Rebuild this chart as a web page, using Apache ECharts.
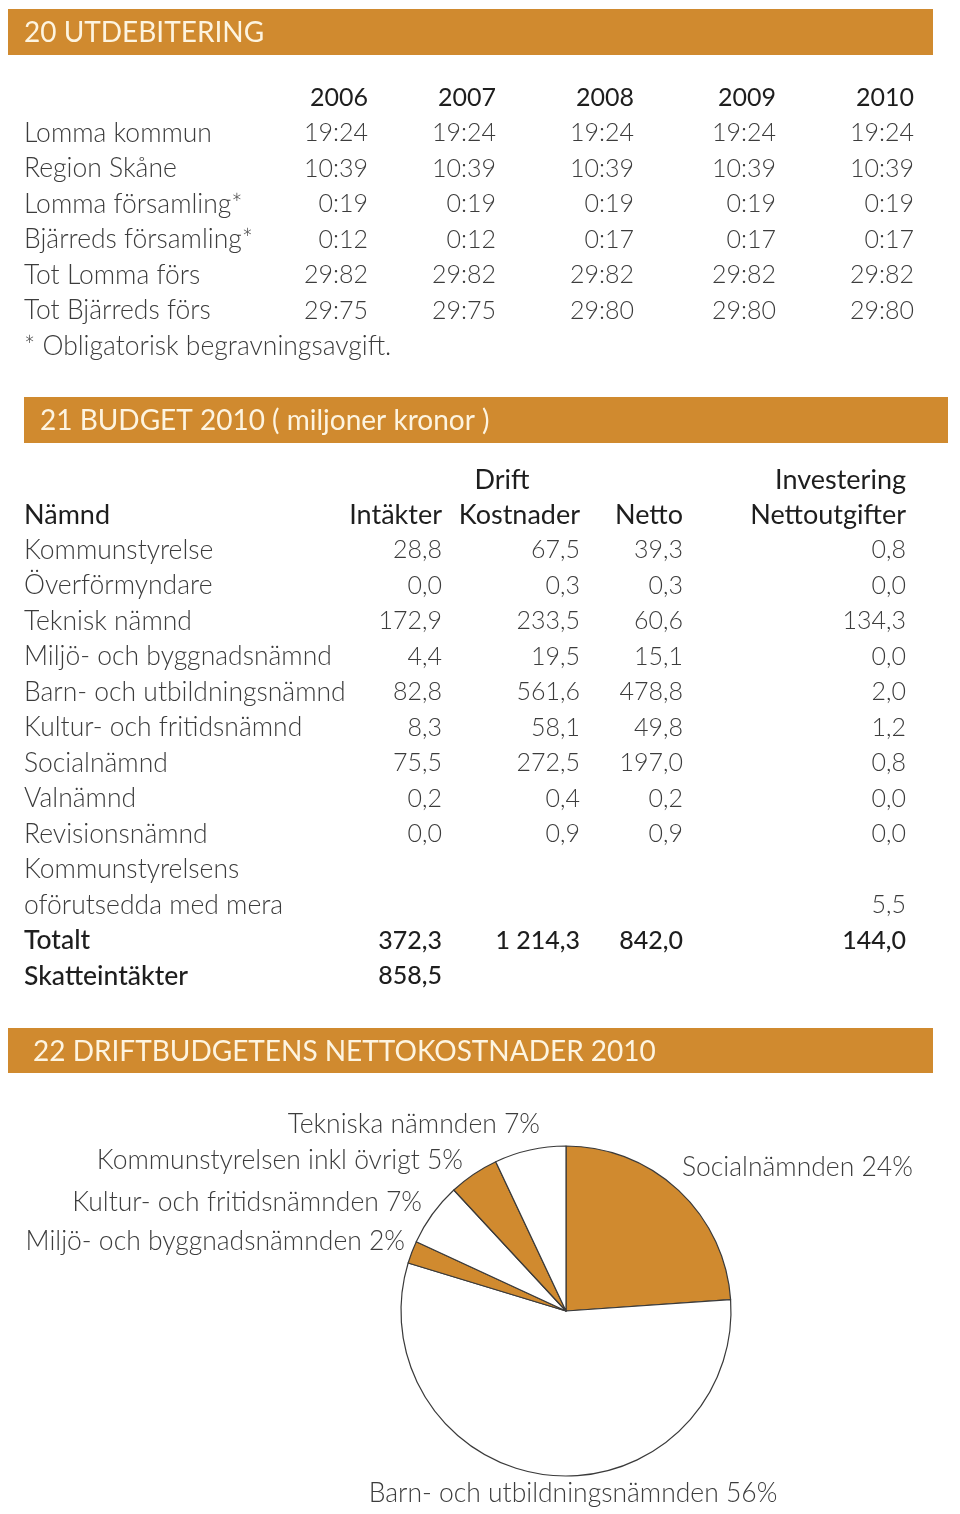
<!DOCTYPE html>
<html>
<head>
<meta charset="utf-8">
<script src="https://cdn.jsdelivr.net/npm/echarts@6/dist/echarts.min.js"></script>
<style>html,body{margin:0;padding:0;background:#fff}#c{width:960px;height:1514px}</style>
</head>
<body>
<div id="c"></div>
<script>
// ---- Data ----
const section20Title = '20 UTDEBITERING';
const years = ['2006', '2007', '2008', '2009', '2010'];
const taxRowLabels = ['Lomma kommun', 'Region Skåne', 'Lomma församling*', 'Bjärreds församling*', 'Tot Lomma förs', 'Tot Bjärreds förs'];
const lommaKommun = ['19:24', '19:24', '19:24', '19:24', '19:24'];
const regionSkane = ['10:39', '10:39', '10:39', '10:39', '10:39'];
const lommaForsamling = ['0:19', '0:19', '0:19', '0:19', '0:19'];
const bjarredsForsamling = ['0:12', '0:12', '0:17', '0:17', '0:17'];
const totLomma = ['29:82', '29:82', '29:82', '29:82', '29:82'];
const totBjarreds = ['29:75', '29:75', '29:80', '29:80', '29:80'];
const taxFootnote = '* Obligatorisk begravningsavgift.';

const section21Title = '21 BUDGET 2010 ( miljoner kronor )';
const budgetGroupHeaders = ['Drift', 'Investering'];
const budgetColHeaders = ['Nämnd', 'Intäkter', 'Kostnader', 'Netto', 'Nettoutgifter'];
const namnder = ['Kommunstyrelse', 'Överförmyndare', 'Teknisk nämnd', 'Miljö- och byggnadsnämnd', 'Barn- och utbildningsnämnd', 'Kultur- och fritidsnämnd', 'Socialnämnd', 'Valnämnd', 'Revisionsnämnd', 'Kommunstyrelsens', 'oförutsedda med mera'];
const intakter = ['28,8', '0,0', '172,9', '4,4', '82,8', '8,3', '75,5', '0,2', '0,0', '', ''];
const kostnader = ['67,5', '0,3', '233,5', '19,5', '561,6', '58,1', '272,5', '0,4', '0,9', '', ''];
const netto = ['39,3', '0,3', '60,6', '15,1', '478,8', '49,8', '197,0', '0,2', '0,9', '', ''];
const investering = ['0,8', '0,0', '134,3', '0,0', '2,0', '1,2', '0,8', '0,0', '0,0', '', '5,5'];
const totalRow = ['Totalt', '372,3', '1 214,3', '842,0', '144,0'];
const skatteRow = ['Skatteintäkter', '858,5', '', '', ''];

const section22Title = '22 DRIFTBUDGETENS NETTOKOSTNADER 2010';
const pieNames = ['Socialnämnden', 'Barn- och utbildningsnämnden', 'Miljö- och byggnadsnämnden', 'Kultur- och fritidsnämnden', 'Kommunstyrelsen inkl övrigt', 'Tekniska nämnden'];
const pieShares = [23.9, 55.8, 2.2, 6.2, 4.9, 7.0];
const piePercentLabels = ['24%', '56%', '2%', '7%', '5%', '7%'];

// ---- Styles / layout ----
const ORANGE = '#D08A2F';
const HEAD_TXT = '#FDF4E0';
const TXT = '#3c3c3c';
const DARK = '#1e1e1e';
const FONT = 'Lato';
const LIGHT = '300 26.5px ' + FONT;
const NUM = '300 25px ' + FONT;
const REG = '400 25px ' + FONT;
const COLH = '400 27px ' + FONT;
const BOLD = '500 26.5px ' + FONT;
const BOLDNUM = '500 25px ' + FONT;
const HEADF = '400 28px ' + FONT;

const g = [];
function txt(x, y, t, font, fill, align) {
  g.push({ type: 'text', x: x, y: y, silent: true,
    style: { text: t, font: font, fill: fill, align: align || 'left', verticalAlign: 'middle' } });
}
function bar(x, y, w, h, title, tx) {
  g.push({ type: 'rect', shape: { x: x, y: y, width: w, height: h }, style: { fill: ORANGE }, silent: true });
  txt(tx, y + h / 2 + 1, title, HEADF, HEAD_TXT, 'left');
}

// Section 20
bar(8, 9, 925, 46, section20Title, 24);
const taxColRight = [368, 496, 634, 776, 914];
const taxRows = [lommaKommun, regionSkane, lommaForsamling, bjarredsForsamling, totLomma, totBjarreds];
years.forEach((yv, i) => txt(taxColRight[i], 98, yv, REG, DARK, 'right'));
taxRowLabels.forEach((lab, r) => {
  const y = 133 + r * 35.5;
  txt(24, y, lab, LIGHT, TXT, 'left');
  taxRows[r].forEach((v, i) => txt(taxColRight[i], y, v, NUM, TXT, 'right'));
});
txt(24, 346, taxFootnote, LIGHT, TXT, 'left');

// Section 21
bar(24, 397, 924, 46, section21Title, 40);
txt(502, 480, budgetGroupHeaders[0], COLH, DARK, 'center');
txt(906, 480, budgetGroupHeaders[1], COLH, DARK, 'right');
const budColRight = [442, 580, 683, 906];
txt(24, 515, budgetColHeaders[0], COLH, DARK, 'left');
budgetColHeaders.slice(1).forEach((h, i) => txt(budColRight[i], 515, h, COLH, DARK, 'right'));
const budCols = [intakter, kostnader, netto, investering];
namnder.forEach((n, r) => {
  const y = 550 + r * 35.5;
  txt(24, y, n, LIGHT, TXT, 'left');
  budCols.forEach((col, i) => { if (col[r]) txt(budColRight[i], y, col[r], NUM, TXT, 'right'); });
});
[totalRow, skatteRow].forEach((row, k) => {
  const y = 550 + (namnder.length + k) * 35.5;
  txt(24, y, row[0], BOLD, DARK, 'left');
  row.slice(1).forEach((v, i) => { if (v) txt(budColRight[i], y, v, BOLDNUM, DARK, 'right'); });
});

// Section 22
bar(8, 1028, 925, 45, section22Title, 33);

const pieColors = [ORANGE, '#ffffff', ORANGE, '#ffffff', ORANGE, '#ffffff'];
const pieLabelAnchor = [
  { x: 682, y: 1167, align: 'left' },
  { x: 573, y: 1493, align: 'center' },
  { x: 405, y: 1241, align: 'right' },
  { x: 422, y: 1202, align: 'right' },
  { x: 463, y: 1160, align: 'right' },
  { x: 540, y: 1124, align: 'right' }
];

const chart = echarts.init(document.getElementById('c'), null, { renderer: 'canvas' });
chart.setOption({
  animation: false,
  backgroundColor: '#ffffff',
  graphic: { elements: g },
  series: [{
    type: 'pie',
    center: [566, 1311],
    radius: 165,
    startAngle: 90,
    clockwise: true,
    silent: true,
    data: pieNames.map((n, i) => ({ name: n, value: pieShares[i], itemStyle: { color: pieColors[i] } })),
    itemStyle: { borderColor: '#3a3a3a', borderWidth: 1.2 },
    label: {
      show: true,
      position: 'outside',
      overflow: 'none',
      formatter: p => p.name + ' ' + piePercentLabels[p.dataIndex],
      fontFamily: FONT, fontSize: 26.5, fontWeight: 300,
      color: TXT
    },
    labelLine: { show: false },
    labelLayout: p => {
      const a = pieLabelAnchor[p.dataIndex];
      return { x: a.x, y: a.y, align: a.align, verticalAlign: 'middle', moveOverlap: null };
    }
  }]
});
</script>
</body>
</html>
